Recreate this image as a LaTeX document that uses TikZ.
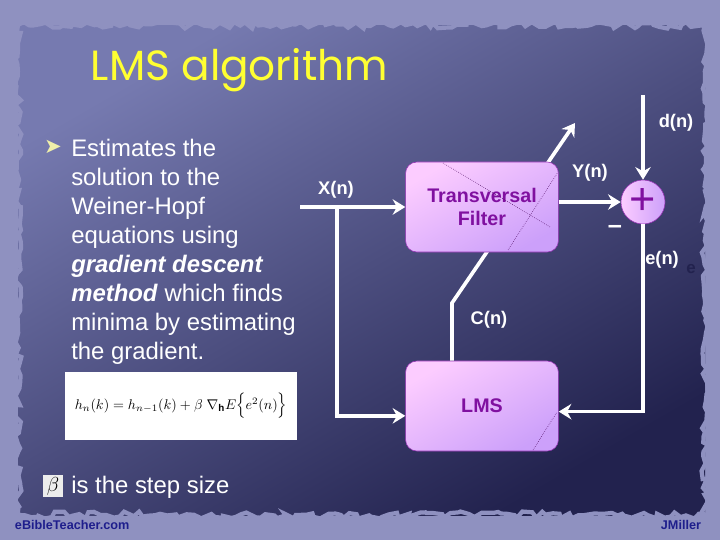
\documentclass[tikz,border=0pt]{standalone}
\usepackage{fontspec}
\setmainfont{Liberation Sans}
\newfontfamily\titlefont{Poppins}
\newfontfamily\symfont{DejaVu Sans}
\usetikzlibrary{arrows.meta,decorations.pathmorphing}
\definecolor{pagebg}{RGB}{143,145,192}
\definecolor{paneldark}{RGB}{34,34,78}
\definecolor{panellight}{RGB}{118,122,176}
\definecolor{boxpink}{RGB}{252,204,255}
\definecolor{boxlilac}{RGB}{204,160,250}
\definecolor{boxedge}{RGB}{150,50,180}
\definecolor{boxtext}{RGB}{128,16,160}
\definecolor{titleyellow}{RGB}{255,255,50}
\definecolor{credit}{RGB}{30,30,140}
\definecolor{bulletyellow}{RGB}{240,240,170}

\begin{document}
\begin{tikzpicture}[
x=0.025cm, y=-0.025cm,
block/.style={draw=boxedge, rounded corners=8pt, align=center, minimum width=3.82cm, minimum height=2.25cm, left color=boxpink, right color=boxlilac, shading angle=30, text=boxtext, font=\fontsize{14}{16}\selectfont\bfseries},
sumnode/.style={circle, draw=boxedge, left color=boxpink, right color=boxlilac, minimum size=1.1cm, inner sep=0pt, text=boxtext},
signal/.style={white, line width=2.6pt, -{Stealth[length=9pt, width=11pt, inset=3pt]}},
lbl/.style={white, font=\fontsize{13}{15}\selectfont\bfseries},
body/.style={white, align=left, inner sep=0pt, font=\fontsize{17}{20.6}\selectfont}
]
\useasboundingbox (0,0) rectangle (720,540);

% slide background
\fill[pagebg] (0,0) rectangle (720,540);
\shade[left color=panellight, right color=paneldark, shading angle=30] (18,25) rectangle (705,515);
\draw[pagebg, line width=3pt, decorate, decoration={random steps, segment length=4pt, amplitude=2.5pt}] (18,25) rectangle (705,515);

% title and text
\node[titleyellow, font=\titlefont\fontsize{30}{36}\selectfont, anchor=west] (title) at (86,70) {LMS algorithm};
\node[bulletyellow, font=\symfont\fontsize{15}{18}\selectfont] (bulletmark) at (53,147) {➤};
\node[body, anchor=north west] (bullet) at (71,139) {Estimates the\\ solution to the\\ Weiner-Hopf\\ equations using\\ \textbf{\textit{gradient descent}}\\ \textbf{\textit{method}} which finds\\ minima by estimating\\ the gradient.};
\node[fill=white, inner sep=0pt, minimum width=5.8cm, minimum height=1.7cm] (formula) at (181,406) {\fontsize{10}{12}\selectfont $h_n(k) = h_{n-1}(k) + \beta\ \nabla_{\mathbf{h}}E\Big\{e^2(n)\Big\}$};
\node[fill=white!85!gray, minimum width=0.5cm, minimum height=0.55cm, inner sep=0pt] (betabox) at (53,486) {\fontsize{15}{15}\selectfont $\beta$};
\node[body, anchor=west] (stepsize) at (71,487) {is the step size};

% diagram
\node[block] (lms) at (482,406) {LMS};
\node[sumnode] (sum) at (643,202) {\fontsize{32}{32}\selectfont +};
\coordinate (xin) at (300,207);
\coordinate (tap) at (337,207);
\coordinate (dtop) at (643,95);
\coordinate (bend) at (452,303);
\coordinate (ctip) at (575,123);

\draw[signal] (lms.north -| bend) -- (bend) -- (ctip);
\node[block] (filter) at (482,207) {Transversal\\Filter};

\draw[signal] (xin) -- (filter.west);
\draw[signal] (tap) |- ([yshift=-7pt]lms.west);
\draw[signal] (filter.east |- sum.west) -- (sum.west);
\draw[signal] (dtop) -- (sum.north);
\draw[signal] (sum.south) |- ([yshift=-4pt]lms.east);

% stray dotted marks on the boxes
\draw[densely dotted, thin, boxtext!60!black] (443,163) -- (550,227);
\draw[densely dotted, thin, boxtext!60!black] (508,250) -- (558,172);
\draw[densely dotted, thin, boxtext!60!black] (533,450) -- (557,412);

\node[lbl] (xlabel) at (336,190) {X(n)};
\node[lbl] (ylabel) at (590,173) {Y(n)};
\node[lbl] (dlabel) at (676,123) {d(n)};
\node[lbl] (elabel) at (662,260) {e(n)};
\node[lbl] (clabel) at (489,320) {C(n)};
\node[lbl, font=\fontsize{18}{18}\selectfont\bfseries] (minus) at (615,229) {–};
\node[text=paneldark, font=\fontsize{12}{14}\selectfont\bfseries] (estray) at (691,269) {e};

% credits
\node[credit, font=\bfseries\fontsize{9}{10}\selectfont, anchor=west] (site) at (10,525) {eBibleTeacher.com};
\node[credit, font=\bfseries\fontsize{9}{10}\selectfont, anchor=east] (author) at (706,525) {JMiller};
\end{tikzpicture}
\end{document}
